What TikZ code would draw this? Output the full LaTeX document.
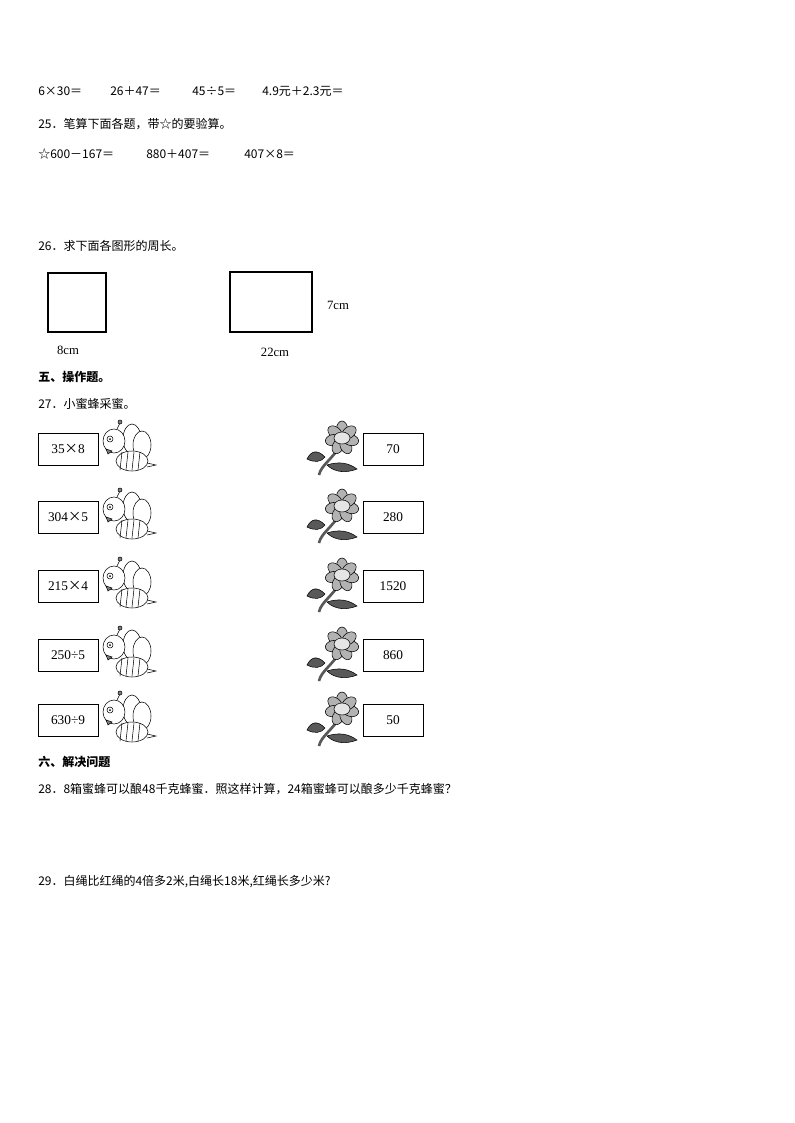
\documentclass[tikz,border=0pt]{standalone}
\usepackage{fontspec}
\setmainfont{Liberation Serif}
\newfontfamily\cjk{Noto Sans CJK SC}
\begin{document}
\begin{tikzpicture}[x=0.75pt,y=-0.75pt,
  t/.style={anchor=west,inner sep=0,font=\cjk\fontsize{9}{10}\selectfont},
  b/.style={anchor=west,inner sep=0,font=\cjk\bfseries\fontsize{9}{10}\selectfont},
  nbox/.style={draw,minimum width=45pt,minimum height=24pt,inner sep=0,font=\fontsize{10}{11}\selectfont},
  lbl/.style={inner sep=0,font=\fontsize{9.5}{10}\selectfont}]
\useasboundingbox[fill=white] (0,0) rectangle (794,1123);
\node[t] (l1a) at (38,91) {6×30＝};
\node[t] (l1b) at (110,91) {26＋47＝};
\node[t] (l1c) at (192,91) {45÷5＝};
\node[t] (l1d) at (262,91) {4.9元＋2.3元＝};
\node[t] (q25) at (38,124) {25．笔算下面各题，带☆的要验算。};
\node[t] (l3a) at (38,154) {☆600－167＝};
\node[t] (l3b) at (146,154) {880＋407＝};
\node[t] (l3c) at (244,154) {407×8＝};
\node[t] (q26) at (38,246) {26．求下面各图形的周长。};
\draw[line width=1.2pt] (48,273) rectangle (106,332);
\draw[line width=1.2pt] (230,272) rectangle (312,332);
\node[lbl] (c8) at (68,350) {8cm};
\node[lbl] (c22) at (275,352) {22cm};
\node[lbl] (c7) at (338,305) {7cm};
\node[b] (s5) at (38,377) {五、操作题。};
\node[t] (q27) at (38,404) {27．小蜜蜂采蜜。};
\foreach \y/\l/\r [count=\i] in {449/35{\cjk ×}8/70, 517/304{\cjk ×}5/280, 586/215{\cjk ×}4/1520, 655/250÷5/860, 720/630÷9/50}{
  \node[nbox] (L\i) at (68,\y) {\l};
  \node[nbox] (R\i) at (393,\y) {\r};
  % bee
  \begin{scope}[shift={(100,\y)}]
    \draw[fill=white] (32,-10) ellipse (9 and 15);
    \draw[fill=white] (42,-4) ellipse (9 and 14);
    \draw[fill=white] (32,12) ellipse (16 and 10);
    \foreach \k in {22,28,34,40} \draw (\k,3) -- (\k-2,21);
    \draw (47,14) -- (56,16) -- (47,18);
    \draw[fill=white] (14,-8) ellipse (11 and 12);
    \draw (10,-10) circle (3); \fill (10,-10) circle (1);
    \draw[fill=gray] (6,0) -- (12,2) -- (8,5) -- cycle;
    \draw (17,-20) -- (20,-26); \draw[fill=gray] (20,-27) circle (2);
  \end{scope}
  % flower
  \begin{scope}[shift={(333,\y)}]
    \draw[line width=2pt,gray!70!black] (8,-5) .. controls (0,10) and (-12,16) .. (-14,26);
    \draw[fill=gray!70!black] (-8,8) .. controls (-16,0) and (-22,2) .. (-26,10) .. controls (-18,14) and (-12,13) .. (-8,8);
    \draw[fill=gray!70!black] (-6,16) .. controls (6,12) and (16,14) .. (24,20) .. controls (14,24) and (2,24) .. (-6,16);
    \foreach \a in {0,51.4,...,310} \draw[fill=gray!60,rotate around={\a:(9,-11)}] (9,-20) ellipse (5.5 and 8);
    \draw[fill=gray!20] (9,-11) ellipse (8 and 6);
  \end{scope}
}
\node[b] (s6) at (38,762) {六、解决问题};
\node[t] (q28) at (38,789) {28．8箱蜜蜂可以酿48千克蜂蜜．照这样计算，24箱蜜蜂可以酿多少千克蜂蜜？};
\node[t] (q29) at (38,882) {29．白绳比红绳的4倍多2米,白绳长18米,红绳长多少米?};
\end{tikzpicture}
\end{document}
